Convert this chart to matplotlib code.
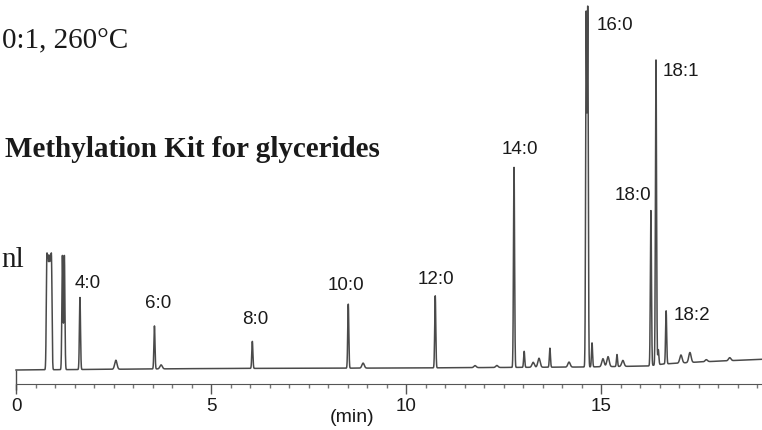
import numpy as np
import matplotlib
matplotlib.use("Agg")
import matplotlib.pyplot as plt
from matplotlib.ticker import MultipleLocator

# retention time (min) and peak height (signal units)
peak_rt = [0.79, 0.82, 0.85, 0.88, 0.91, 1.19, 1.24, 1.64, 2.56, 3.55, 3.72, 6.06, 8.52, 8.90,
           10.75, 11.77, 12.33, 12.77, 13.03, 13.26, 13.41, 13.69, 14.18,
           14.62, 14.66, 14.77, 15.05, 15.18, 15.41, 15.56,
           16.28, 16.41, 16.47, 16.67, 17.05, 17.28, 17.7, 18.3]
peak_h = [104, 95, 95, 95, 104, 114, 114, 72, 9, 43, 4, 27, 64, 5,
          72, 2, 2, 200, 16, 5, 9, 19, 5,
          350, 355, 24, 8, 10, 12, 6,
          155, 305, 15, 53, 8, 10, 2, 3]

# baseline drift knots
base_t = [0, 5, 10, 14.6, 16.2, 16.6, 17.5, 19.3]
base_v = [0, 1.5, 2, 3, 4, 6, 8, 11]

labels = ["4:0", "6:0", "8:0", "10:0", "12:0", "14:0", "16:0", "18:0", "18:1", "18:2"]
label_xy = [(1.51, 86), (3.31, 66), (5.79, 50), (8.0, 85), (10.31, 90),
            (12.46, 220), (14.90, 345), (15.36, 175), (16.59, 299), (16.85, 55)]

ticks = [0, 5, 10, 15]

t = np.arange(0, 19.3, 0.002)
sig = np.interp(t, base_t, base_v)
for rt, h in zip(peak_rt, peak_h):
    w = 0.03 if h < 12 else 0.014
    sig = sig + h * np.exp(-0.5 * ((t - rt) / w) ** 2)

fig = plt.figure(figsize=(7.62, 4.30), dpi=100)
ax = fig.add_axes([0, 0, 1, 1])
ax.set_xlim(-16 / 39, 746 / 39)
ax.set_ylim(-60, 370)

ax.plot(t, sig, color="#4a4a4a", lw=1.1)
ax.vlines(0, -20, 0, color="#4a4a4a", lw=1.0)

for s in ["top", "right", "left"]:
    ax.spines[s].set_visible(False)
ax.spines["bottom"].set_position(("data", -14))
ax.spines["bottom"].set_bounds(0, 19.3)
ax.spines["bottom"].set_color("#555555")
ax.set_yticks([])
ax.set_xticks(ticks)
ax.xaxis.set_minor_locator(MultipleLocator(0.5))
ax.tick_params(axis="x", which="major", direction="out", length=7, width=1,
               color="#555555", labelsize=13.5, pad=3, labelcolor="#1a1a1a")
ax.tick_params(axis="x", which="minor", direction="out", length=3, width=1,
               color="#777777")
for lb in ax.get_xticklabels():
    lb.set_fontfamily("Liberation Sans")

for txt, (x, y) in zip(labels, label_xy):
    ax.text(x, y, txt, fontsize=13.5, family="Liberation Sans", color="#1a1a1a",
            ha="left", va="center")

ax.text(8.62, -48, "(min)", fontsize=14, family="Liberation Sans", color="#1a1a1a",
        ha="center", va="center")

fig.text(128 / 762, 1 - 48 / 430, "0:1, 260°C", family="Liberation Serif",
         fontsize=21, color="#1a1a1a", ha="right", va="baseline")
fig.text(380 / 762, 1 - 157 / 430, "Methylation Kit for glycerides",
         family="Liberation Serif", fontweight="bold", fontsize=21,
         color="#1a1a1a", ha="right", va="baseline")
fig.text(24 / 762, 1 - 267 / 430, "nl", family="Liberation Serif",
         fontsize=21, color="#1a1a1a", ha="right", va="baseline")

fig.savefig("out.png", dpi=100)
